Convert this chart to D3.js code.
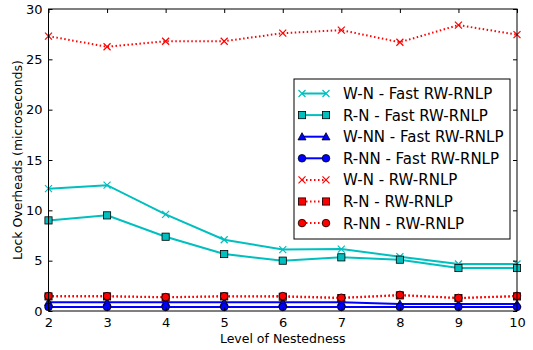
<!DOCTYPE html>
<html>
<head>
<meta charset="utf-8">
<script src="https://cdn.jsdelivr.net/npm/d3@7"></script>
<style>
  html, body { margin: 0; padding: 0; background: #fff; }
  text { font-family: "DejaVu Sans", sans-serif; }
</style>
</head>
<body>
<svg id="chart" width="533" height="350"></svg>
<script>
// Nesting levels on the x axis
const levels = [2, 3, 4, 5, 6, 7, 8, 9, 10];

// Lock overheads (microseconds) per series
const wnFast   = [12.15, 12.5, 9.6, 7.08, 6.1, 6.15, 5.4, 4.67, 4.67];
const rnFast   = [9.0, 9.5, 7.38, 5.66, 5.0, 5.33, 5.1, 4.27, 4.27];
const wnnFast  = [0.86, 0.86, 0.86, 0.86, 0.86, 0.86, 0.7, 0.7, 0.7];
const rnnFast  = [0.4, 0.4, 0.4, 0.4, 0.4, 0.4, 0.4, 0.4, 0.4];
const wnRnlp   = [27.3, 26.25, 26.8, 26.8, 27.6, 27.9, 26.7, 28.4, 27.45];
const rnRnlp   = [1.45, 1.45, 1.35, 1.45, 1.42, 1.28, 1.55, 1.28, 1.45];
const rnnRnlp  = [1.5, 1.48, 1.38, 1.47, 1.48, 1.32, 1.6, 1.3, 1.5];

const seriesNames = [
  "W-N - Fast RW-RNLP", "R-N - Fast RW-RNLP", "W-NN - Fast RW-RNLP",
  "R-NN - Fast RW-RNLP", "W-N - RW-RNLP", "R-N - RW-RNLP", "R-NN - RW-RNLP"
];
const seriesValues = [wnFast, rnFast, wnnFast, rnnFast, wnRnlp, rnRnlp, rnnRnlp];

const yTicks = [0, 5, 10, 15, 20, 25, 30];

// Visual style per series
const styles = [
  { color: "#00bfbf", marker: "x",        dash: null },
  { color: "#00bfbf", marker: "square",   dash: null },
  { color: "#0000ff", marker: "triangle", dash: null },
  { color: "#0000ff", marker: "circle",   dash: null },
  { color: "#ff0000", marker: "x",        dash: "1.5,2.5" },
  { color: "#ff0000", marker: "square",   dash: "1.5,2.5" },
  { color: "#ff0000", marker: "circle",   dash: "1.5,2.5" }
];

const svg = d3.select("#chart");
const m = { left: 48.5, right: 517, top: 9, bottom: 311 };

const x = d3.scaleLinear().domain([2, 10]).range([m.left, m.right]);
const y = d3.scaleLinear().domain([0, 30]).range([m.bottom, m.top]);

const plot = svg.append("g");

// Clip lines to the axes box
svg.append("defs").append("clipPath").attr("id", "clip")
  .append("rect").attr("x", m.left).attr("y", m.top)
  .attr("width", m.right - m.left).attr("height", m.bottom - m.top);

function drawMarker(g, type, cx, cy, color) {
  if (type === "x") {
    const s = 3.5;
    g.append("path")
      .attr("d", `M${cx - s},${cy - s}L${cx + s},${cy + s}M${cx - s},${cy + s}L${cx + s},${cy - s}`)
      .attr("stroke", color).attr("stroke-width", 1.2).attr("fill", "none");
  } else if (type === "square") {
    const s = 3.6;
    g.append("rect").attr("x", cx - s).attr("y", cy - s)
      .attr("width", 2 * s).attr("height", 2 * s)
      .attr("fill", color).attr("stroke", "#000").attr("stroke-width", 0.8);
  } else if (type === "circle") {
    g.append("circle").attr("cx", cx).attr("cy", cy).attr("r", 3.8)
      .attr("fill", color).attr("stroke", "#000").attr("stroke-width", 0.8);
  } else if (type === "triangle") {
    const s = 4;
    g.append("path")
      .attr("d", `M${cx},${cy - s}L${cx + s},${cy + s * 0.8}L${cx - s},${cy + s * 0.8}Z`)
      .attr("fill", color).attr("stroke", "#000").attr("stroke-width", 0.8);
  }
}

const line = d3.line().x((d, i) => x(levels[i])).y(d => y(d));

seriesValues.forEach((vals, k) => {
  const st = styles[k];
  const g = plot.append("g").attr("clip-path", "url(#clip)");
  g.append("path").datum(vals)
    .attr("d", line)
    .attr("fill", "none")
    .attr("stroke", st.color)
    .attr("stroke-width", 2)
    .attr("stroke-dasharray", st.dash);
  const mg = plot.append("g");
  vals.forEach((v, i) => drawMarker(mg, st.marker, x(levels[i]), y(v), st.color));
});

// Axes box
svg.append("rect")
  .attr("x", m.left).attr("y", m.top)
  .attr("width", m.right - m.left).attr("height", m.bottom - m.top)
  .attr("fill", "none").attr("stroke", "#000").attr("stroke-width", 1);

// Inward ticks on all four sides
const xAxisB = d3.axisBottom(x).tickValues(levels).tickSize(-4).tickPadding(7).tickFormat(d3.format("d"));
const xAxisT = d3.axisTop(x).tickValues(levels).tickSize(-4).tickFormat("");
const yAxisL = d3.axisLeft(y).tickValues(yTicks).tickSize(-4).tickPadding(6).tickFormat(d3.format("d"));
const yAxisR = d3.axisRight(y).tickValues(yTicks).tickSize(-4).tickFormat("");

function styleAxis(g) {
  g.select(".domain").remove();
  g.selectAll(".tick line").attr("stroke", "#000");
  g.selectAll(".tick text").attr("fill", "#000").style("font-size", "13px")
    .style("font-family", "DejaVu Sans, sans-serif");
}

svg.append("g").attr("transform", `translate(0,${m.bottom})`).call(xAxisB).call(styleAxis);
svg.append("g").attr("transform", `translate(0,${m.top})`).call(xAxisT).call(styleAxis);
svg.append("g").attr("transform", `translate(${m.left},0)`).call(yAxisL).call(styleAxis);
svg.append("g").attr("transform", `translate(${m.right},0)`).call(yAxisR).call(styleAxis);

// Axis titles
svg.append("text")
  .attr("x", (m.left + m.right) / 2).attr("y", 343)
  .attr("text-anchor", "middle").style("font-size", "12.5px")
  .text("Level of Nestedness");

svg.append("text")
  .attr("transform", `translate(22,${(m.top + m.bottom) / 2}) rotate(-90)`)
  .attr("text-anchor", "middle").style("font-size", "12.5px")
  .text("Lock Overheads (microseconds)");

// Legend
const lg = svg.append("g");
const lx = 294, ly = 79, lw = 216, lh = 160;
lg.append("rect").attr("x", lx).attr("y", ly).attr("width", lw).attr("height", lh)
  .attr("fill", "#fff").attr("stroke", "#000").attr("stroke-width", 1);

seriesNames.forEach((name, k) => {
  const st = styles[k];
  const yy = 93.5 + k * 21.6;
  lg.append("line").attr("x1", 302).attr("x2", 326).attr("y1", yy).attr("y2", yy)
    .attr("stroke", st.color).attr("stroke-width", 2)
    .attr("stroke-dasharray", st.dash);
  drawMarker(lg, st.marker, 302, yy, st.color);
  drawMarker(lg, st.marker, 326, yy, st.color);
  lg.append("text").attr("x", 343).attr("y", yy).attr("dy", "0.36em")
    .style("font-size", "15px").text(name);
});
</script>
</body>
</html>
